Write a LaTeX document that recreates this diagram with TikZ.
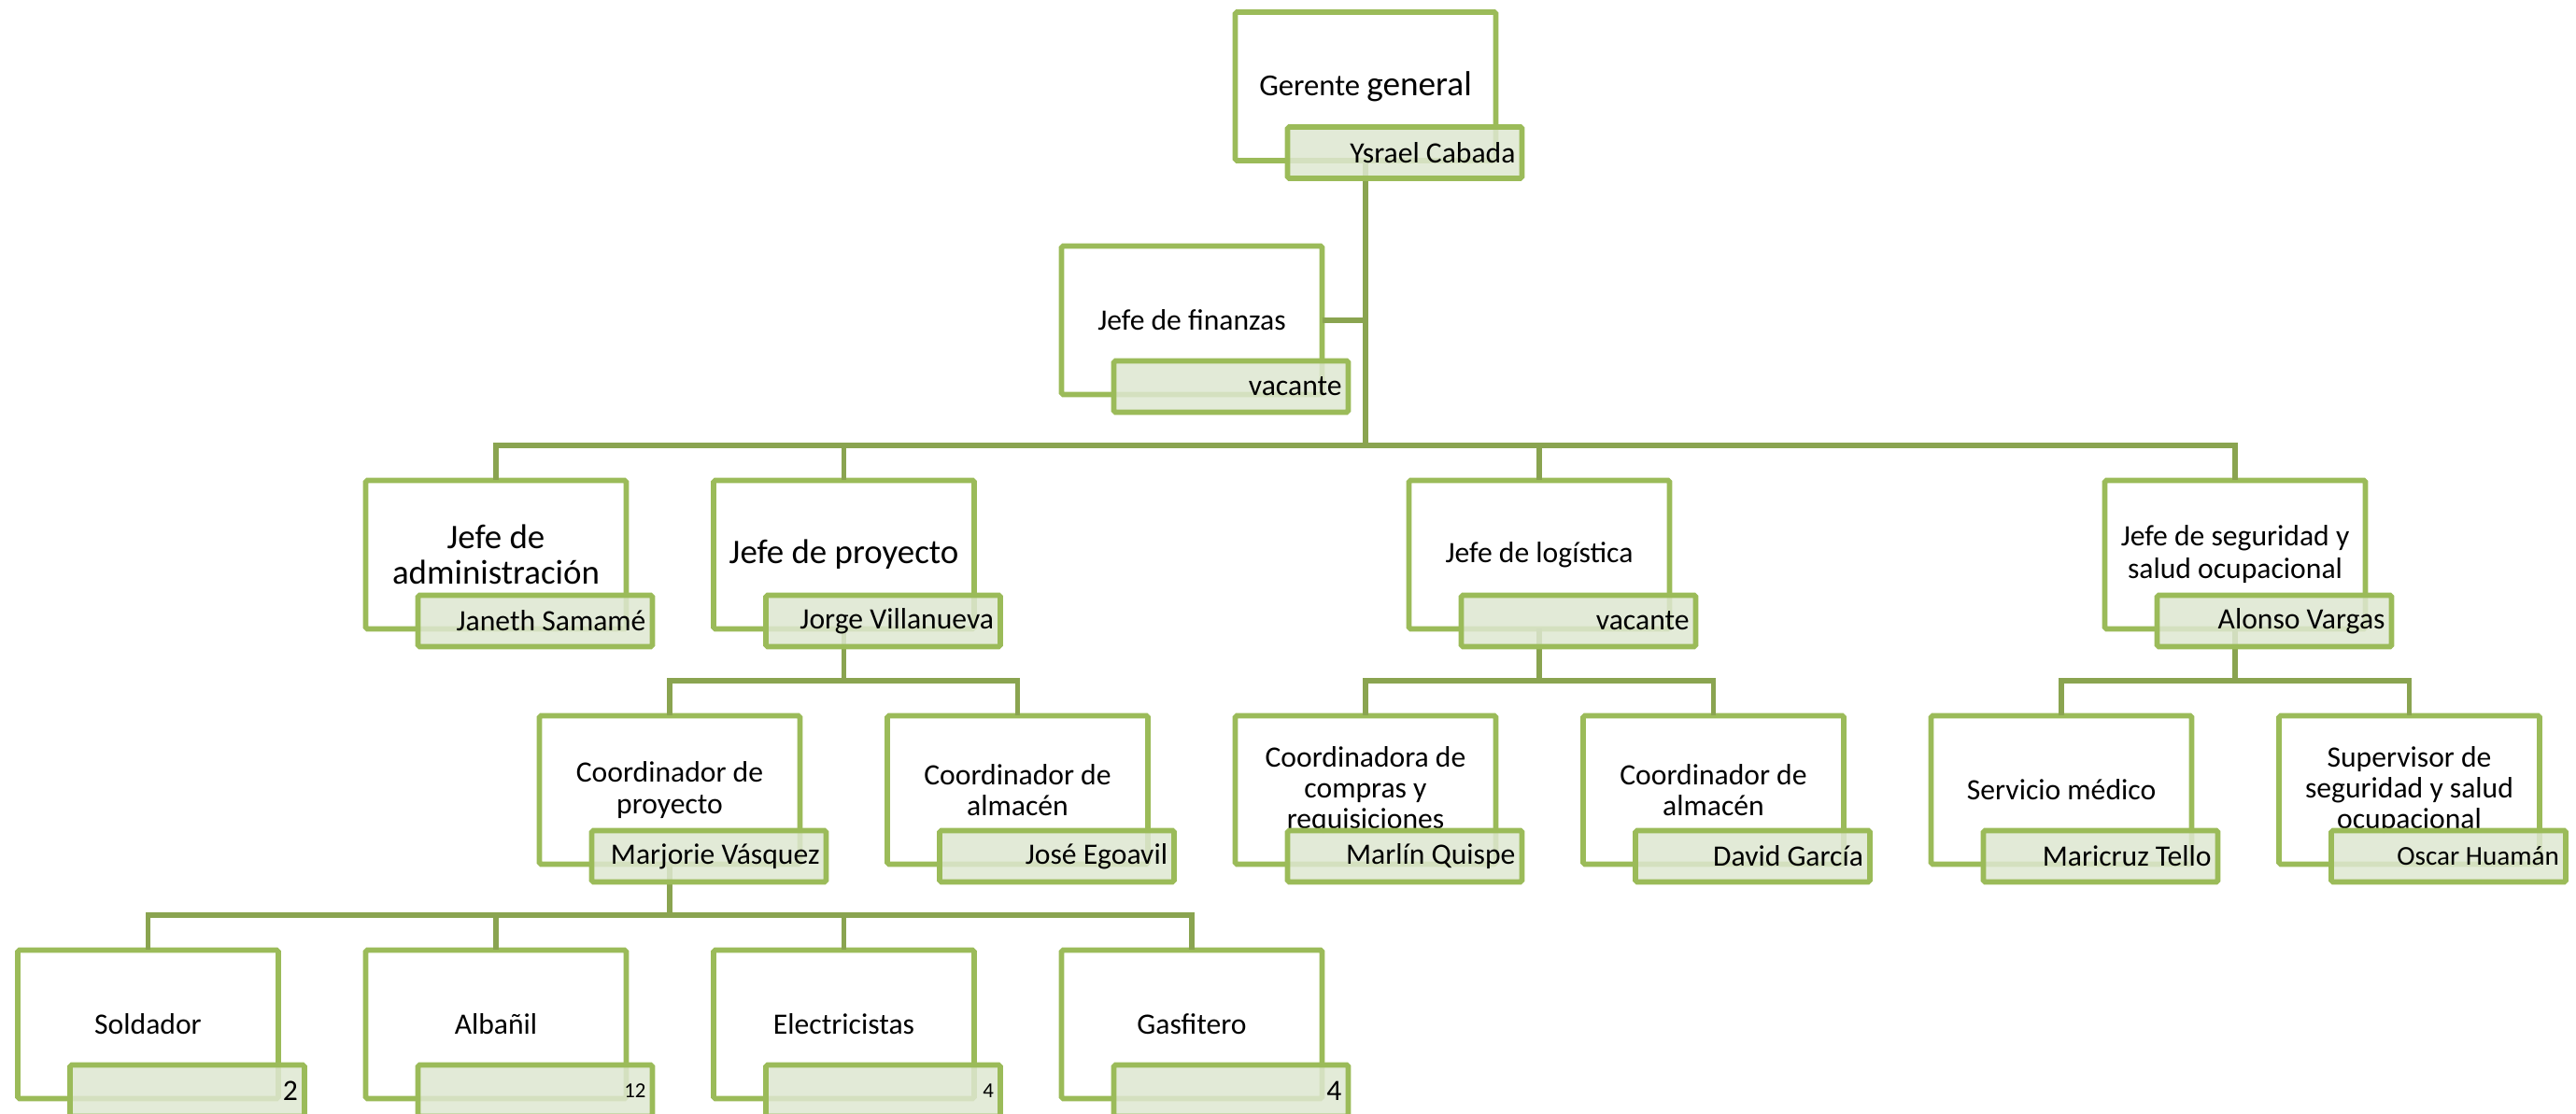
\documentclass[tikz,border=0pt]{standalone}
\usepackage{fontspec}
\setmainfont{Carlito}
\usetikzlibrary{positioning}
\definecolor{boxgreen}{RGB}{155,187,89}
\definecolor{linkgreen}{RGB}{138,164,80}
\definecolor{namefill}{RGB}{222,231,209}

\begin{document}
\begin{tikzpicture}[
    node distance=0.935cm,
    box/.style={rectangle, draw=boxgreen, line width=1.6pt, fill=white, rounded corners=0.5pt,
        minimum width=2.79cm, minimum height=1.59cm, outer sep=0pt, align=flush center,
        font=\fontsize{9}{9.5}\selectfont},
    bigbox/.style={box, font=\fontsize{10.5}{11}\selectfont},
    namebox/.style={rectangle, draw=boxgreen, line width=1.6pt, fill=namefill, fill opacity=0.85,
        text opacity=1, rounded corners=0.5pt, minimum width=2.51cm, minimum height=0.55cm,
        text width=2.37cm, inner xsep=0.07cm, inner ysep=0pt, align=flush right,
        font=\fontsize{9}{10}\selectfont},
    link/.style={draw=linkgreen, line width=1.5pt}
]
    \useasboundingbox (0,0) rectangle (27.58,11.93);

    \node[box] (ger) at (14.62,11.005) {{\fontsize{9.3}{11}\selectfont Gerente} {\fontsize{10.6}{12}\selectfont general}};
    \node[box] (fin) at (12.76,8.50) {Jefe de finanzas};

    \node[bigbox] (adm) at (5.31,5.99) {Jefe de\\administración};
    \node[bigbox, right=of adm] (proy) {Jefe de proyecto};
    \node[box] (log) at (16.48,5.99) {Jefe de logística};
    \node[box, font=\fontsize{9}{10}\selectfont] (seg) at (23.93,5.99) {Jefe de seguridad y\\salud ocupacional};

    \node[box] (cpro) at (7.17,3.47) {Coordinador de\\proyecto};
    \node[box, right=of cpro] (calm) {Coordinador de\\almacén};
    \node[box, right=of calm] (ccom) {Coordinadora de\\compras y\\requisiciones};
    \node[box, right=of ccom] (calmlog) {Coordinador de\\almacén};
    \node[box, right=of calmlog] (smed) {Servicio médico};
    \node[box, right=of smed] (sup) {Supervisor de\\seguridad y salud\\ocupacional};

    \node[box] (sol) at (1.585,0.96) {Soldador};
    \node[box, right=of sol] (alb) {Albañil};
    \node[box, right=of alb] (elec) {Electricistas};
    \node[box, right=of elec] (gas) {Gasfitero};

    \draw[link] (fin.east) -- (fin.east -| ger.south);
    \draw[link] (ger.south) -- ++(0,-3.05) -| (adm.north);
    \draw[link] (ger.south) -- ++(0,-3.05) -| (proy.north);
    \draw[link] (ger.south) -- ++(0,-3.05) -| (log.north);
    \draw[link] (ger.south) -- ++(0,-3.05) -| (seg.north);

    \draw[link] (proy.south) -- ++(0,-0.555) -| (cpro.north);
    \draw[link] (proy.south) -- ++(0,-0.555) -| (calm.north);
    \draw[link] (log.south) -- ++(0,-0.555) -| (ccom.north);
    \draw[link] (log.south) -- ++(0,-0.555) -| (calmlog.north);
    \draw[link] (seg.south) -- ++(0,-0.555) -| (smed.north);
    \draw[link] (seg.south) -- ++(0,-0.555) -| (sup.north);

    \draw[link] (cpro.south) -- ++(0,-0.545) -| (sol.north);
    \draw[link] (cpro.south) -- ++(0,-0.545) -| (alb.north);
    \draw[link] (cpro.south) -- ++(0,-0.545) -| (elec.north);
    \draw[link] (cpro.south) -- ++(0,-0.545) -| (gas.north);

    \node[namebox] (gerN) at ([shift={(0.42,0.085)}]ger.south) {Ysrael Cabada};
    \node[namebox] (finN) at ([shift={(0.42,0.085)}]fin.south) {vacante};
    \node[namebox] (admN) at ([shift={(0.42,0.085)}]adm.south) {Janeth Samamé};
    \node[namebox] (proyN) at ([shift={(0.42,0.085)}]proy.south) {Jorge Villanueva};
    \node[namebox] (logN) at ([shift={(0.42,0.085)}]log.south) {vacante};
    \node[namebox] (segN) at ([shift={(0.42,0.085)}]seg.south) {Alonso Vargas};
    \node[namebox] (cproN) at ([shift={(0.42,0.085)}]cpro.south) {Marjorie Vásquez};
    \node[namebox] (calmN) at ([shift={(0.42,0.085)}]calm.south) {José Egoavil};
    \node[namebox] (ccomN) at ([shift={(0.42,0.085)}]ccom.south) {Marlín Quispe};
    \node[namebox] (calmlogN) at ([shift={(0.42,0.085)}]calmlog.south) {David García};
    \node[namebox] (smedN) at ([shift={(0.42,0.085)}]smed.south) {Maricruz Tello};
    \node[namebox, font=\fontsize{8.3}{10}\selectfont] (supN) at ([shift={(0.42,0.085)}]sup.south) {Oscar Huamán};
    \node[namebox] (solN) at ([shift={(0.42,0.085)}]sol.south) {2};
    \node[namebox, font=\fontsize{6.5}{8}\selectfont] (albN) at ([shift={(0.42,0.085)}]alb.south) {12};
    \node[namebox, font=\fontsize{6.5}{8}\selectfont] (elecN) at ([shift={(0.42,0.085)}]elec.south) {4};
    \node[namebox] (gasN) at ([shift={(0.42,0.085)}]gas.south) {4};
\end{tikzpicture}
\end{document}
